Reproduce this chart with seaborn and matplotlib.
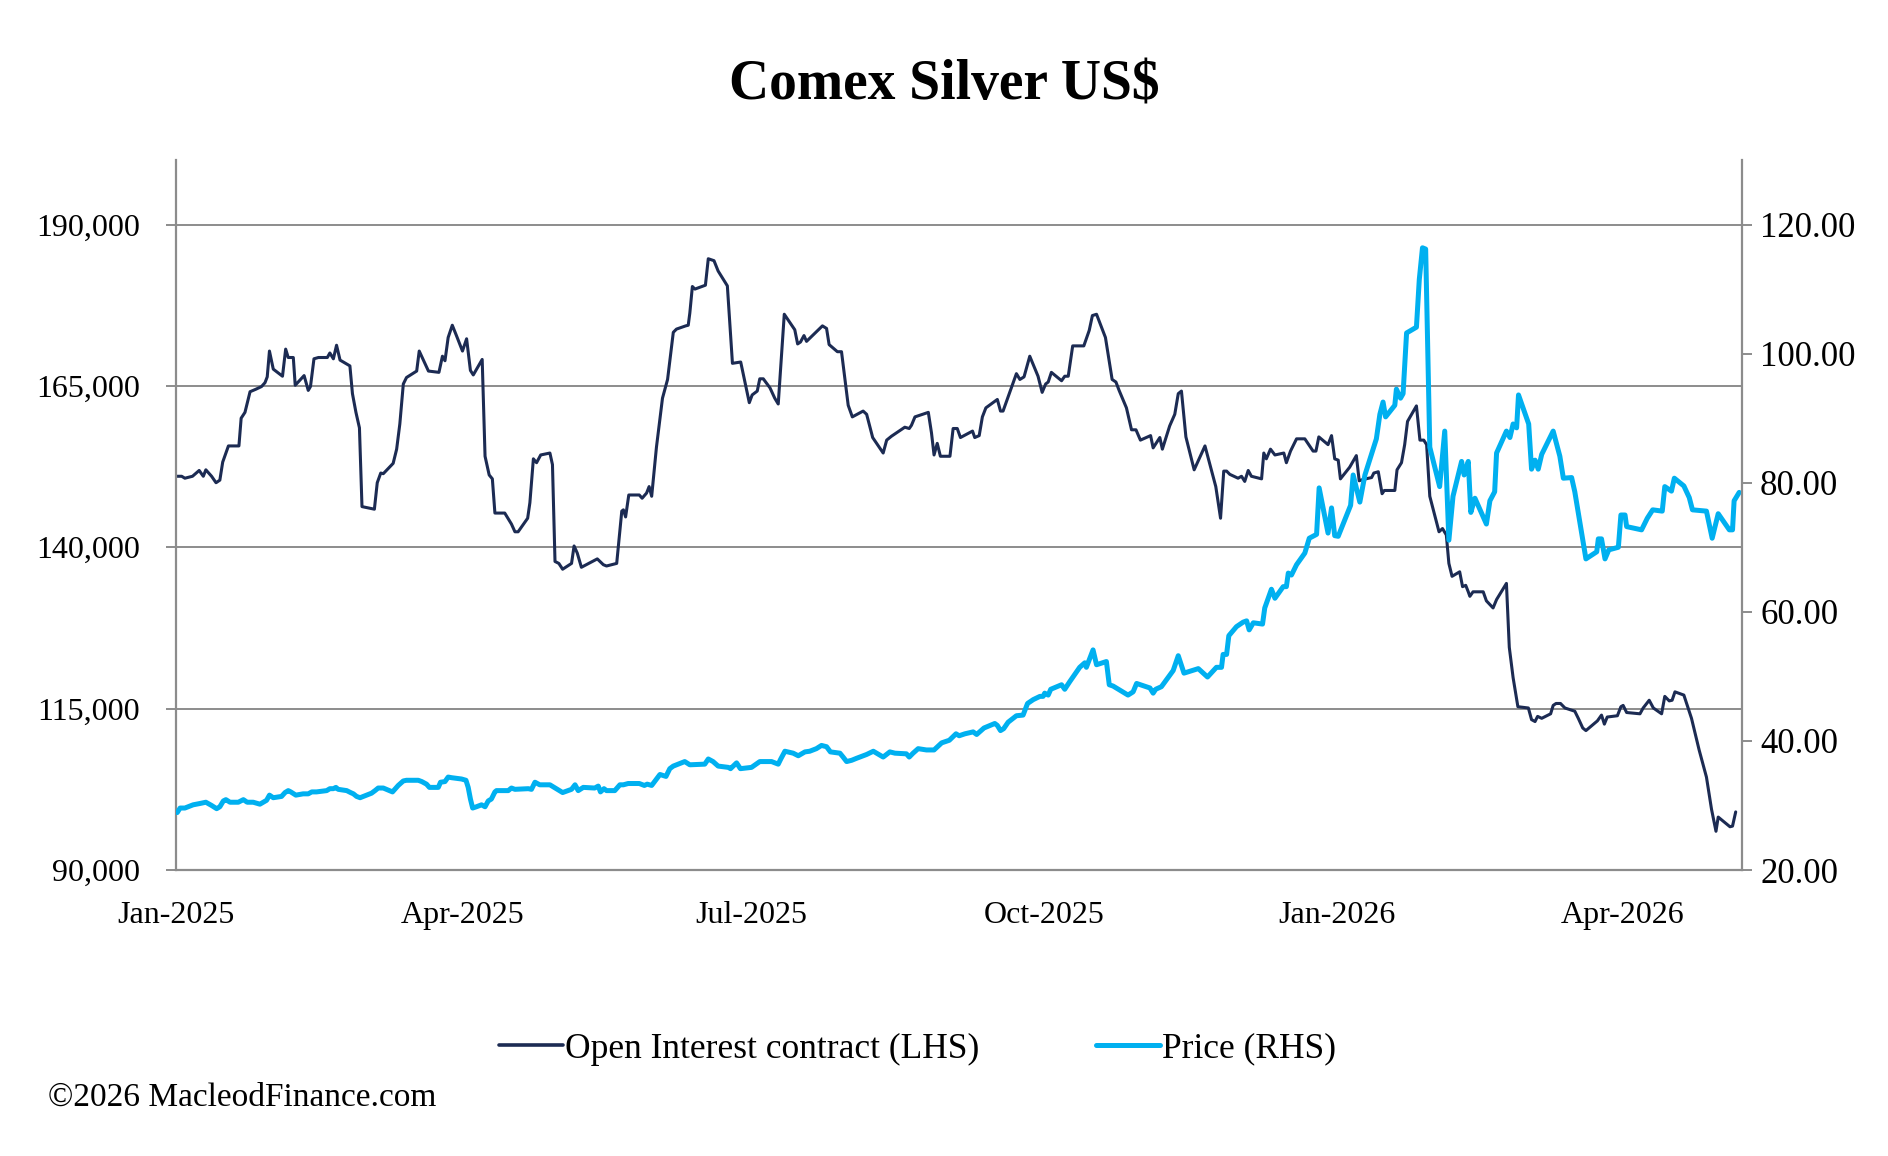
import numpy as np
import pandas as pd
import matplotlib
matplotlib.use("Agg")
import matplotlib.pyplot as plt
import matplotlib.dates as mdates
from matplotlib.lines import Line2D
from matplotlib.ticker import FuncFormatter
import seaborn as sns

# days since 2025-01-01 and open interest (thousand contracts)
oi_day = [0.4, 1.8, 2.8, 5.2, 7.3, 8.6, 9.4, 11.2, 12.6, 13.8,
          14.7, 16.5, 19.8, 20.5, 21.7, 23.3, 25.2, 26.9, 28.0, 28.7,
          29.4, 30.6, 33.5, 34.5, 35.3, 36.9, 37.5, 40.3, 41.6, 42.3,
          43.4, 44.8, 47.6, 48.4, 49.5, 50.5, 51.6, 54.7, 55.5, 56.6,
          57.7, 58.5, 62.4, 63.3, 64.4, 65.2, 67.3, 68.3, 69.4, 70.4,
          71.5, 72.5, 75.7, 76.5, 79.4, 82.7, 83.8, 84.6, 85.6, 86.9,
          88.2, 90.1, 91.4, 92.6, 93.5, 96.3, 97.2, 98.5, 99.5, 100.3,
          103.4, 105.5, 106.6, 107.6, 110.6, 111.3, 112.4, 113.4, 114.7, 117.6,
          118.4, 119.2, 120.4, 121.6, 124.4, 125.2, 126.2, 127.5, 132.5, 134.4,
          135.4, 138.6, 140.2, 140.7, 141.4, 142.4, 145.7, 146.6, 148.0, 148.8,
          149.6, 151.1, 153.0, 154.6, 156.4, 157.4, 160.3, 161.1, 161.6, 162.4,
          163.2, 166.5, 167.4, 169.2, 170.5, 173.4, 175.0, 177.6, 180.3, 181.2,
          182.8, 183.6, 184.7, 186.8, 188.3, 189.4, 191.3, 194.6, 195.5, 196.4,
          197.5, 198.3, 201.4, 203.3, 204.6, 205.4, 208.0, 209.3, 211.4, 212.7,
          216.1, 217.2, 219.1, 222.4, 223.5, 225.0, 229.2, 230.6, 231.3, 232.4,
          236.6, 237.6, 238.4, 239.4, 240.4, 243.4, 244.4, 245.7, 246.7, 250.5,
          251.2, 252.6, 253.6, 254.7, 258.3, 259.3, 260.1, 264.3, 265.4, 266.7,
          268.5, 271.1, 272.4, 273.5, 274.3, 275.3, 278.5, 279.5, 280.6, 282.0,
          285.5, 287.2, 288.2, 289.5, 292.3, 294.4, 295.6, 296.6, 298.9, 300.5,
          301.9, 303.3, 306.5, 307.3, 309.4, 310.2, 312.5, 314.1, 315.2, 316.2,
          317.6, 320.2, 323.6, 327.0, 328.5, 329.5, 330.4, 331.4, 334.0, 335.1,
          336.1, 337.2, 338.2, 341.4, 342.1, 342.9, 344.2, 345.6, 348.4, 349.2,
          350.5, 352.4, 355.0, 357.6, 358.5, 359.4, 362.3, 363.4, 364.4, 365.5,
          366.2, 369.1, 371.2, 372.1, 373.3, 376.0, 376.7, 378.1, 379.3, 380.0,
          383.3, 384.0, 385.4, 386.4, 387.3, 390.1, 391.2, 392.4, 393.3, 394.3,
          397.2, 398.3, 399.5, 400.3, 401.3, 403.7, 404.6, 405.6, 406.4, 406.9,
          407.9, 411.1, 412.1, 414.2, 415.3, 418.4, 419.3, 420.5, 422.0, 425.3,
          426.3, 427.4, 428.2, 429.5, 432.3, 433.1, 434.0, 435.4, 436.8, 439.9,
          441.0, 442.4, 443.4, 447.0, 448.3, 449.2, 450.1, 453.3, 454.4, 455.1,
          456.2, 460.4, 461.4, 463.3, 464.6, 467.2, 468.2, 469.6, 470.5, 471.4,
          474.2, 476.6, 479.0, 481.3, 482.9, 484.3, 485.0, 488.7, 489.5, 490.5]
oi_k = [151.0, 151.0, 150.7, 151.0, 151.9, 151.0, 152.0, 151.0, 150.0, 150.4,
        153.2, 155.7, 155.7, 160.0, 160.9, 164.1, 164.5, 164.9, 165.5, 166.4,
        170.4, 167.6, 166.5, 170.7, 169.4, 169.4, 165.1, 166.6, 164.3, 164.9,
        169.2, 169.4, 169.4, 170.1, 169.2, 171.3, 169.0, 168.1, 163.8, 160.9,
        158.5, 146.3, 145.9, 150.0, 151.5, 151.4, 152.5, 153.0, 155.2, 159.1,
        165.3, 166.3, 167.3, 170.4, 167.3, 167.1, 169.6, 168.9, 172.5, 174.4,
        172.8, 170.4, 172.3, 167.4, 166.7, 169.1, 154.1, 151.2, 150.6, 145.3,
        145.3, 143.6, 142.4, 142.4, 144.5, 146.9, 153.7, 153.1, 154.3, 154.6,
        152.8, 137.8, 137.5, 136.6, 137.5, 140.2, 139.1, 136.9, 138.2, 137.3,
        137.1, 137.5, 145.6, 145.8, 144.7, 148.1, 148.1, 147.6, 148.4, 149.4,
        147.9, 155.5, 163.1, 166.0, 173.3, 173.8, 174.3, 174.4, 176.3, 180.4,
        180.0, 180.6, 184.7, 184.4, 182.8, 180.5, 168.5, 168.7, 162.4, 163.6,
        164.2, 166.1, 166.1, 164.7, 163.1, 162.2, 176.1, 173.7, 171.5, 171.8,
        172.8, 171.9, 173.4, 174.3, 173.9, 171.4, 170.3, 170.3, 162.0, 160.2,
        161.1, 160.6, 157.0, 154.6, 156.6, 157.2, 158.6, 158.4, 158.9, 160.2,
        160.9, 157.7, 154.3, 156.1, 154.1, 154.1, 158.4, 158.4, 157.0, 158.0,
        157.0, 157.3, 160.2, 161.6, 162.9, 161.1, 161.1, 166.9, 166.0, 166.4,
        169.6, 166.5, 164.0, 165.3, 165.6, 167.1, 165.8, 166.5, 166.5, 171.2,
        171.2, 173.6, 175.9, 176.1, 172.5, 166.0, 165.6, 164.3, 161.6, 158.2,
        158.2, 156.6, 157.3, 155.4, 157.0, 155.2, 158.8, 160.6, 163.8, 164.2,
        157.1, 152.0, 155.7, 149.4, 144.5, 151.8, 151.8, 151.3, 150.7, 151.0,
        150.2, 151.9, 151.0, 150.6, 154.6, 153.7, 155.2, 154.3, 154.6, 153.1,
        154.9, 156.8, 156.8, 154.9, 154.9, 157.1, 155.9, 157.3, 153.7, 153.5,
        150.6, 152.4, 154.2, 150.3, 150.5, 150.8, 151.5, 151.7, 148.3, 148.8,
        148.8, 152.0, 153.1, 155.9, 159.5, 161.9, 156.6, 156.6, 155.9, 147.9,
        142.4, 142.9, 141.9, 137.5, 135.5, 136.2, 133.9, 134.1, 133.1, 132.4,
        133.1, 133.1, 131.7, 130.6, 131.9, 134.4, 124.5, 119.8, 115.3, 115.1,
        113.3, 113.0, 113.8, 113.5, 114.2, 115.5, 115.8, 115.8, 115.1, 114.6,
        113.5, 112.0, 111.6, 113.1, 114.0, 112.6, 113.7, 113.9, 115.3, 115.5,
        114.4, 114.2, 115.1, 116.3, 115.1, 114.2, 116.9, 116.2, 116.3, 117.6,
        117.1, 113.5, 108.6, 104.4, 99.4, 96.0, 98.2, 96.7, 96.8, 99.0]

# days since 2025-01-01 and silver price (US$/oz)
px_day = [0.4, 1.3, 2.8, 5.4, 7.5, 9.4, 11.2, 12.8, 13.8, 14.9,
          15.7, 17.0, 19.6, 21.2, 22.4, 24.3, 26.4, 28.5, 29.4, 30.6,
          33.2, 34.3, 35.3, 36.1, 37.7, 40.0, 41.6, 42.7, 44.2, 47.4,
          48.4, 49.5, 50.3, 51.0, 53.7, 54.9, 55.8, 56.8, 57.9, 60.0,
          61.5, 62.6, 63.6, 65.2, 68.1, 69.9, 71.5, 72.5, 76.2, 77.3,
          78.8, 79.7, 82.5, 83.2, 84.6, 85.6, 86.7, 89.8, 91.2, 91.9,
          92.6, 93.3, 94.5, 96.1, 97.2, 98.2, 99.2, 100.3, 100.8, 104.5,
          105.5, 106.6, 110.8, 111.8, 112.9, 114.4, 117.6, 121.6, 124.4, 125.5,
          126.5, 128.1, 131.7, 132.8, 133.5, 134.6, 135.4, 138.0, 139.6, 140.7,
          142.2, 145.7, 147.3, 148.2, 149.6, 152.2, 154.1, 155.3, 156.4, 160.0,
          161.6, 166.3, 167.4, 168.9, 170.5, 173.7, 174.4, 176.3, 177.5, 181.0,
          183.6, 187.3, 189.4, 190.2, 191.5, 194.1, 195.7, 197.8, 199.3, 201.4,
          203.0, 204.6, 205.8, 208.8, 209.8, 210.9, 212.5, 214.0, 217.2, 219.3,
          222.4, 224.5, 226.1, 229.7, 230.6, 231.8, 233.4, 236.0, 238.4, 240.8,
          243.2, 245.3, 246.3, 248.1, 250.7, 251.8, 254.1, 257.5, 258.3, 259.3,
          260.3, 261.7, 264.3, 266.4, 267.8, 269.6, 271.7, 272.7, 273.2, 274.3,
          275.1, 278.5, 279.5, 281.1, 284.2, 285.8, 286.3, 288.4, 289.5, 292.6,
          293.5, 294.7, 299.4, 301.0, 302.1, 306.3, 307.3, 308.1, 309.9, 313.6,
          315.2, 317.0, 321.5, 324.4, 327.2, 328.8, 329.3, 330.4, 331.1, 333.5,
          335.6, 336.7, 337.5, 338.8, 341.7, 342.4, 343.5, 344.5, 345.6, 348.2,
          349.2, 349.8, 350.8, 352.4, 355.0, 356.4, 358.7, 359.5, 362.3, 363.4,
          364.4, 365.5, 369.4, 370.2, 372.3, 373.9, 377.5, 378.6, 379.6, 380.4,
          383.3, 383.8, 385.1, 385.9, 387.0, 390.1, 391.0, 392.0, 393.0, 394.3,
          397.4, 399.0, 400.3, 401.6, 404.3, 405.1, 406.4, 407.2, 408.5, 412.1,
          413.2, 414.7, 415.3, 418.4, 419.5, 420.5, 421.6, 422.2, 425.4, 426.3,
          427.4, 428.4, 429.5, 433.1, 435.2, 436.3, 438.9, 439.9, 441.7, 443.4,
          446.8, 447.3, 448.3, 449.4, 450.6, 453.6, 454.4, 455.7, 456.2, 460.9,
          462.7, 464.4, 467.4, 468.2, 470.3, 471.2, 474.2, 475.9, 476.9, 481.3,
          483.1, 485.0, 488.5, 489.5, 490.0, 491.6]
px_usd = [28.9, 29.6, 29.6, 30.1, 30.3, 30.5, 30.0, 29.5, 29.8, 30.7,
          30.9, 30.5, 30.5, 30.9, 30.5, 30.5, 30.2, 30.8, 31.6, 31.2,
          31.4, 32.0, 32.3, 32.1, 31.6, 31.8, 31.8, 32.1, 32.1, 32.3,
          32.6, 32.6, 32.8, 32.5, 32.3, 32.0, 31.8, 31.4, 31.2, 31.6,
          31.9, 32.3, 32.7, 32.7, 32.1, 33.1, 33.8, 33.9, 33.9, 33.7,
          33.3, 32.8, 32.8, 33.6, 33.7, 34.4, 34.3, 34.1, 33.9, 32.8,
          31.0, 29.6, 29.8, 30.1, 29.8, 30.7, 31.0, 32.1, 32.3, 32.3,
          32.7, 32.5, 32.6, 32.5, 33.6, 33.2, 33.2, 32.0, 32.5, 33.2,
          32.3, 32.8, 32.7, 33.0, 32.1, 32.6, 32.3, 32.3, 33.2, 33.2,
          33.4, 33.4, 33.1, 33.3, 33.1, 34.8, 34.5, 35.7, 36.1, 36.8,
          36.3, 36.4, 37.2, 36.8, 36.1, 35.9, 35.7, 36.6, 35.7, 35.9,
          36.8, 36.8, 36.4, 37.2, 38.4, 38.1, 37.7, 38.3, 38.4, 38.8,
          39.3, 39.1, 38.3, 38.1, 37.5, 36.8, 37.0, 37.3, 37.9, 38.4,
          37.5, 38.3, 38.1, 38.0, 37.5, 38.1, 38.8, 38.6, 38.6, 39.7,
          40.1, 41.1, 40.8, 41.1, 41.4, 41.0, 42.0, 42.7, 42.4, 41.6,
          41.9, 42.9, 43.9, 44.0, 45.8, 46.4, 46.9, 46.9, 47.4, 47.1,
          48.0, 48.7, 48.0, 49.2, 51.4, 52.1, 51.4, 54.1, 51.8, 52.3,
          48.7, 48.5, 47.1, 47.6, 48.9, 48.2, 47.4, 48.0, 48.4, 50.9,
          53.2, 50.5, 51.2, 49.9, 51.4, 51.4, 53.4, 53.4, 56.3, 57.7,
          58.4, 58.6, 57.2, 58.3, 58.1, 60.6, 62.1, 63.5, 62.1, 63.9,
          63.9, 66.0, 65.7, 67.3, 69.1, 71.4, 72.0, 79.2, 72.2, 76.1,
          71.8, 71.7, 76.5, 81.2, 77.0, 81.2, 86.8, 90.6, 92.5, 90.2,
          92.0, 94.5, 93.1, 93.8, 103.2, 104.1, 111.5, 116.4, 116.2, 85.5,
          79.4, 88.0, 71.1, 77.9, 83.3, 81.2, 83.3, 75.4, 77.6, 73.6,
          77.2, 78.6, 84.6, 88.0, 87.0, 89.1, 88.5, 93.6, 89.1, 82.1,
          83.5, 82.1, 84.4, 88.0, 84.1, 80.7, 80.8, 78.6, 73.2, 68.2,
          69.3, 71.3, 71.3, 68.2, 69.6, 70.0, 75.0, 75.0, 73.2, 72.7,
          74.5, 75.8, 75.6, 79.4, 78.7, 80.7, 79.5, 77.7, 75.8, 75.6,
          71.4, 75.2, 72.7, 72.7, 77.2, 78.5]

oi_ticks = [90000, 115000, 140000, 165000, 190000]
px_ticks = [20, 40, 60, 80, 100, 120]

NAVY = "#1c2b53"
CYAN = "#00b0f0"
GREY = "#8c8c8c"

sns.set_style("white")
plt.rcParams["font.family"] = ["Liberation Serif", "DejaVu Serif"]
plt.rcParams["text.color"] = "black"
plt.rcParams["xtick.color"] = "black"
plt.rcParams["ytick.color"] = "black"

start = pd.Timestamp("2025-01-01")
oi = pd.DataFrame({"date": start + pd.to_timedelta(oi_day, unit="D"),
                   "oi": np.array(oi_k) * 1000})
px = pd.DataFrame({"date": start + pd.to_timedelta(px_day, unit="D"),
                   "price": px_usd})

fig = plt.figure(figsize=(18.88, 11.56), dpi=100)
ax = fig.add_axes([0.0932, 0.2474, 0.8295, 0.6142])
ax2 = ax.twinx()

sns.lineplot(data=oi, x="date", y="oi", ax=ax, color=NAVY, lw=2.2,
             estimator=None, sort=False, legend=False)
sns.lineplot(data=px, x="date", y="price", ax=ax2, color=CYAN, lw=3.6,
             estimator=None, sort=False, legend=False)

ax.set_xlim(start, start + pd.Timedelta(days=492.5))
ax.set_ylim(90000, 200000)
ax2.set_ylim(20, 130)
ax.set_yticks(oi_ticks)
ax2.set_yticks(px_ticks)
ax.yaxis.set_major_formatter(FuncFormatter(lambda v, p: f"{v:,.0f}"))
ax2.yaxis.set_major_formatter(FuncFormatter(lambda v, p: f"{v:.2f}"))
ax.xaxis.set_major_locator(mdates.MonthLocator(bymonth=[1, 4, 7, 10]))
ax.xaxis.set_major_formatter(mdates.DateFormatter("%b-%Y"))

ax.set_xlabel("")
ax.set_ylabel("")
ax2.set_ylabel("")
ax.grid(False)
ax2.grid(False)
ax.yaxis.grid(True, color=GREY, lw=1.4)

for s in ["top", "right"]:
    ax.spines[s].set_visible(False)
for s in ["top", "left", "bottom"]:
    ax2.spines[s].set_visible(False)
for s in ["left", "bottom"]:
    ax.spines[s].set_color(GREY)
    ax.spines[s].set_linewidth(1.6)
ax2.spines["right"].set_color(GREY)
ax2.spines["right"].set_linewidth(1.6)

ax.tick_params(axis="y", direction="out", length=7, width=1.4, color=GREY,
               labelcolor="black", labelsize=23, pad=19, left=True)
ax.tick_params(axis="x", length=0, labelcolor="black", labelsize=23, pad=22)
ax2.tick_params(axis="y", direction="out", length=7, width=1.4, color=GREY,
                labelcolor="black", labelsize=25, pad=6, right=True)

fig.text(0.5, 1 - 86 / 1156, "Comex Silver US$", ha="center", va="center",
         fontsize=40, fontweight="bold", color="black")

handles = [Line2D([], [], color=NAVY, lw=2.6), Line2D([], [], color=CYAN, lw=3.6)]
fig.legend(handles, ["Open Interest contract (LHS)", "Price (RHS)"],
           loc="center", bbox_to_anchor=(0.486, 1 - 1049 / 1156), ncol=2,
           frameon=False, fontsize=25.5, handlelength=1.8, handletextpad=0.05,
           columnspacing=3.3)

fig.text(48 / 1888, 1 - 1098 / 1156, "©2026 MacleodFinance.com",
         ha="left", va="center", fontsize=24, color="black")

fig.savefig("out.png", dpi=100)
